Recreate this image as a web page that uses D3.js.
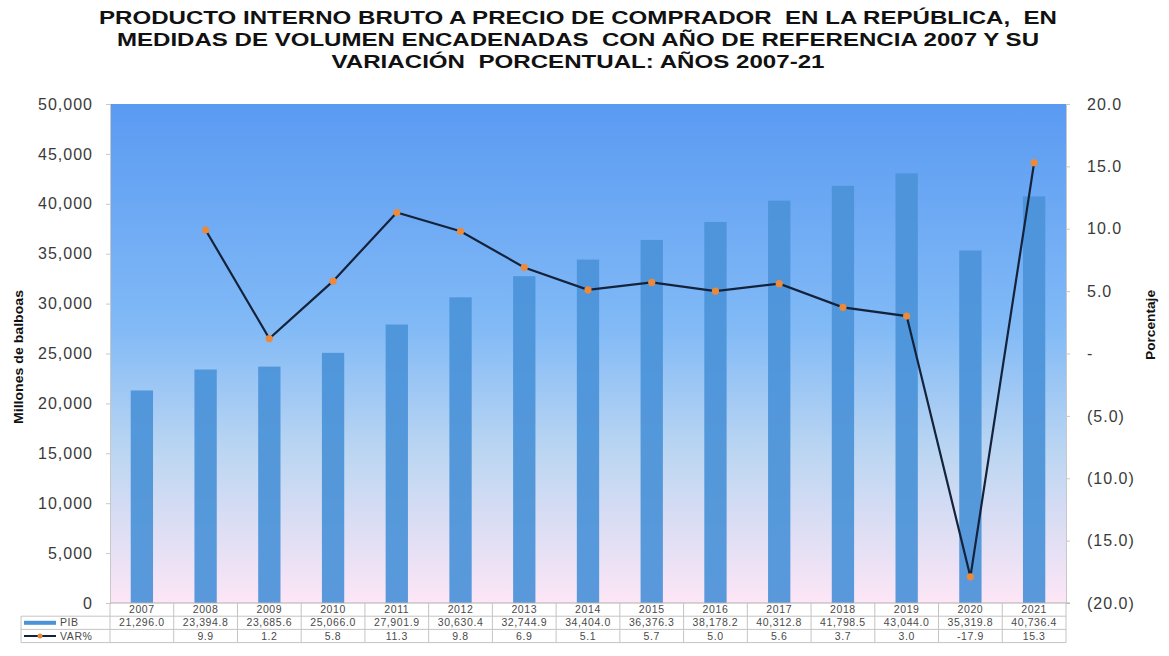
<!DOCTYPE html>
<html>
<head>
<meta charset="utf-8">
<script src="https://cdn.jsdelivr.net/npm/d3@7"></script>
<style>
  body { margin: 0; background: #fff; }
  svg { display: block; font-family: "Liberation Sans", Arial, sans-serif; }
</style>
</head>
<body>
<div id="container"></div>
<script>
const years = ["2007","2008","2009","2010","2011","2012","2013","2014","2015","2016","2017","2018","2019","2020","2021"]
const pib = [21296.0, 23394.8, 23685.6, 25066.0, 27901.9, 30630.4, 32744.9, 34404.0, 36376.3, 38178.2, 40312.8, 41798.5, 43044.0, 35319.8, 40736.4]
const variacion = [null, 9.9, 1.2, 5.8, 11.3, 9.8, 6.9, 5.1, 5.7, 5.0, 5.6, 3.7, 3.0, -17.9, 15.3]
const leftTicks = [0, 5000, 10000, 15000, 20000, 25000, 30000, 35000, 40000, 45000, 50000]
const rightTicks = [-20, -15, -10, -5, 0, 5, 10, 15, 20]
const titleLines = [
  "PRODUCTO INTERNO BRUTO A PRECIO DE COMPRADOR  EN LA REPÚBLICA,  EN",
  "MEDIDAS DE VOLUMEN ENCADENADAS  CON AÑO DE REFERENCIA 2007 Y SU",
  "VARIACIÓN  PORCENTUAL: AÑOS 2007-21"
]

const width = 1169
const height = 656
const margin = {top: 104, bottom: 53, left: 110, right: 103}

const svg = d3.create("svg")
    .attr("width", width)
    .attr("height", height)

// background gradient of the plot area
const grad = svg.append("defs").append("linearGradient")
    .attr("id", "bg").attr("x1", 0).attr("y1", 0).attr("x2", 0).attr("y2", 1)
grad.append("stop").attr("offset", "0%").attr("stop-color", "#5a9af2")
grad.append("stop").attr("offset", "45%").attr("stop-color", "#82baf6")
grad.append("stop").attr("offset", "70%").attr("stop-color", "#bcd6f2")
grad.append("stop").attr("offset", "100%").attr("stop-color", "#fde6f6")

const x = d3.scaleBand()
    .domain(years)
    .range([margin.left, width - margin.right])
    .padding(0)

const y = d3.scaleLinear()
    .domain([0, 50000])
    .range([height - margin.bottom, margin.top])

const y2 = d3.scaleLinear()
    .domain([-20, 20])
    .range([height - margin.bottom, margin.top])

svg.append("rect")
    .attr("x", margin.left)
    .attr("y", margin.top)
    .attr("width", width - margin.left - margin.right)
    .attr("height", height - margin.top - margin.bottom)
    .attr("fill", "url(#bg)")

// title
svg.append("g").selectAll("text")
    .data(titleLines)
    .enter().append("text")
    .attr("x", 578)
    .attr("y", (d, i) => 24 + i * 22)
    .attr("text-anchor", "middle")
    .attr("font-size", "19px")
    .attr("font-weight", "bold")
    .attr("fill", "#111")
    .attr("textLength", (d, i) => [958, 922, 493][i])
    .attr("lengthAdjust", "spacingAndGlyphs")
    .style("white-space", "pre")
    .text(d => d)

// left axis
const yAxis = svg.append("g")
    .attr("transform", `translate(${margin.left}, 0)`)
    .call(d3.axisLeft(y).tickValues(leftTicks).tickSize(4).tickPadding(13).tickFormat(d3.format(",")))
yAxis.select(".domain").attr("stroke", "#c8c8c8")
yAxis.selectAll(".tick line").attr("stroke", "#c8c8c8")
yAxis.selectAll("text")
    .attr("font-family", "Liberation Sans, Arial, sans-serif")
    .attr("font-size", "16px")
    .attr("letter-spacing", "1px")
    .attr("fill", "#3a3a3a")

// right axis
const y2Axis = svg.append("g")
    .attr("transform", `translate(${width - margin.right}, 0)`)
    .call(d3.axisRight(y2).tickValues(rightTicks).tickSize(4).tickPadding(17)
        .tickFormat(d => d === 0 ? "-" : d < 0 ? `(${Math.abs(d).toFixed(1)})` : d.toFixed(1)))
y2Axis.select(".domain").attr("stroke", "#c8c8c8")
y2Axis.selectAll(".tick line").attr("stroke", "#c8c8c8")
y2Axis.selectAll("text")
    .attr("font-family", "Liberation Sans, Arial, sans-serif")
    .attr("font-size", "16px")
    .attr("letter-spacing", "1px")
    .attr("fill", "#3a3a3a")

// axis titles
svg.append("text")
    .attr("transform", "translate(23, 357) rotate(-90)")
    .attr("text-anchor", "middle")
    .attr("font-size", "13.5px")
    .attr("font-weight", "bold")
    .attr("fill", "#111")
    .attr("textLength", 134)
    .attr("lengthAdjust", "spacingAndGlyphs")
    .text("Millones de balboas")

svg.append("text")
    .attr("transform", "translate(1155, 325) rotate(-90)")
    .attr("text-anchor", "middle")
    .attr("font-size", "13.5px")
    .attr("font-weight", "bold")
    .attr("fill", "#111")
    .attr("textLength", 70)
    .attr("lengthAdjust", "spacingAndGlyphs")
    .text("Porcentaje")

// bars
const barW = x.bandwidth() * 0.35
svg.append("g")
    .selectAll("rect")
    .data(years)
    .enter().append("rect")
    .attr("x", d => x(d) + (x.bandwidth() - barW) / 2)
    .attr("y", (d, i) => y(pib[i]))
    .attr("width", barW)
    .attr("height", (d, i) => y(0) - y(pib[i]))
    .attr("fill", "#4b92d8")
    .attr("fill-opacity", 0.92)

// variation line
const varData = years.map((d, i) => ({year: d, v: variacion[i]})).filter(d => d.v !== null)
const line = d3.line()
    .x(d => x(d.year) + x.bandwidth() / 2)
    .y(d => y2(d.v))

svg.append("path")
    .datum(varData)
    .attr("d", line)
    .attr("fill", "none")
    .attr("stroke", "#14233b")
    .attr("stroke-width", 2.2)

svg.append("g")
    .selectAll("circle")
    .data(varData)
    .enter().append("circle")
    .attr("cx", d => x(d.year) + x.bandwidth() / 2)
    .attr("cy", d => y2(d.v))
    .attr("r", 3.6)
    .attr("fill", "#ec8a3c")

// data table under the chart
const rowH = 13.2
const t0 = y(0)
const table = svg.append("g").attr("font-size", "10.5px").attr("fill", "#4a4a4a").attr("letter-spacing", "0.6px")
const gridColor = "#c4c4c4"

table.append("line")
    .attr("x1", margin.left).attr("x2", width - margin.right + 4)
    .attr("y1", t0).attr("y2", t0)
    .attr("stroke", "#b0b0b0")

// horizontal table lines
;[1, 2, 3].forEach(r => {
    table.append("line")
        .attr("x1", 21).attr("x2", width - margin.right)
        .attr("y1", t0 + r * rowH).attr("y2", t0 + r * rowH)
        .attr("stroke", gridColor)
})
// vertical table lines
const edges = years.map(d => x(d)).concat([width - margin.right])
table.selectAll(".vline")
    .data(edges)
    .enter().append("line")
    .attr("x1", d => d).attr("x2", d => d)
    .attr("y1", t0).attr("y2", t0 + 3 * rowH)
    .attr("stroke", gridColor)
table.append("line")
    .attr("x1", 21).attr("x2", 21)
    .attr("y1", t0 + rowH).attr("y2", t0 + 3 * rowH)
    .attr("stroke", gridColor)

table.selectAll(".yr")
    .data(years)
    .enter().append("text")
    .attr("x", d => x(d) + x.bandwidth() / 2)
    .attr("y", t0 + rowH - 3)
    .attr("text-anchor", "middle")
    .text(d => d)

const fmt = d3.format(",.1f")
table.selectAll(".pib")
    .data(years)
    .enter().append("text")
    .attr("x", d => x(d) + x.bandwidth() / 2)
    .attr("y", t0 + 2 * rowH - 3)
    .attr("text-anchor", "middle")
    .text((d, i) => fmt(pib[i]))

table.selectAll(".var")
    .data(years)
    .enter().append("text")
    .attr("x", d => x(d) + x.bandwidth() / 2)
    .attr("y", t0 + 3 * rowH - 3)
    .attr("text-anchor", "middle")
    .text((d, i) => variacion[i] === null ? "" : variacion[i].toFixed(1))

// legend keys inside the table
table.append("line")
    .attr("x1", 24).attr("x2", 56)
    .attr("y1", t0 + 1.5 * rowH).attr("y2", t0 + 1.5 * rowH)
    .attr("stroke", "#4b92d8").attr("stroke-width", 4)
table.append("text").attr("x", 60).attr("y", t0 + 2 * rowH - 3).text("PIB")

table.append("line")
    .attr("x1", 24).attr("x2", 56)
    .attr("y1", t0 + 2.5 * rowH).attr("y2", t0 + 2.5 * rowH)
    .attr("stroke", "#14233b").attr("stroke-width", 2)
table.append("circle")
    .attr("cx", 40).attr("cy", t0 + 2.5 * rowH).attr("r", 2.5)
    .attr("fill", "#ec8a3c")
table.append("text").attr("x", 60).attr("y", t0 + 3 * rowH - 3).text("VAR%")

document.querySelector("#container").appendChild(svg.node())
</script>
</body>
</html>
